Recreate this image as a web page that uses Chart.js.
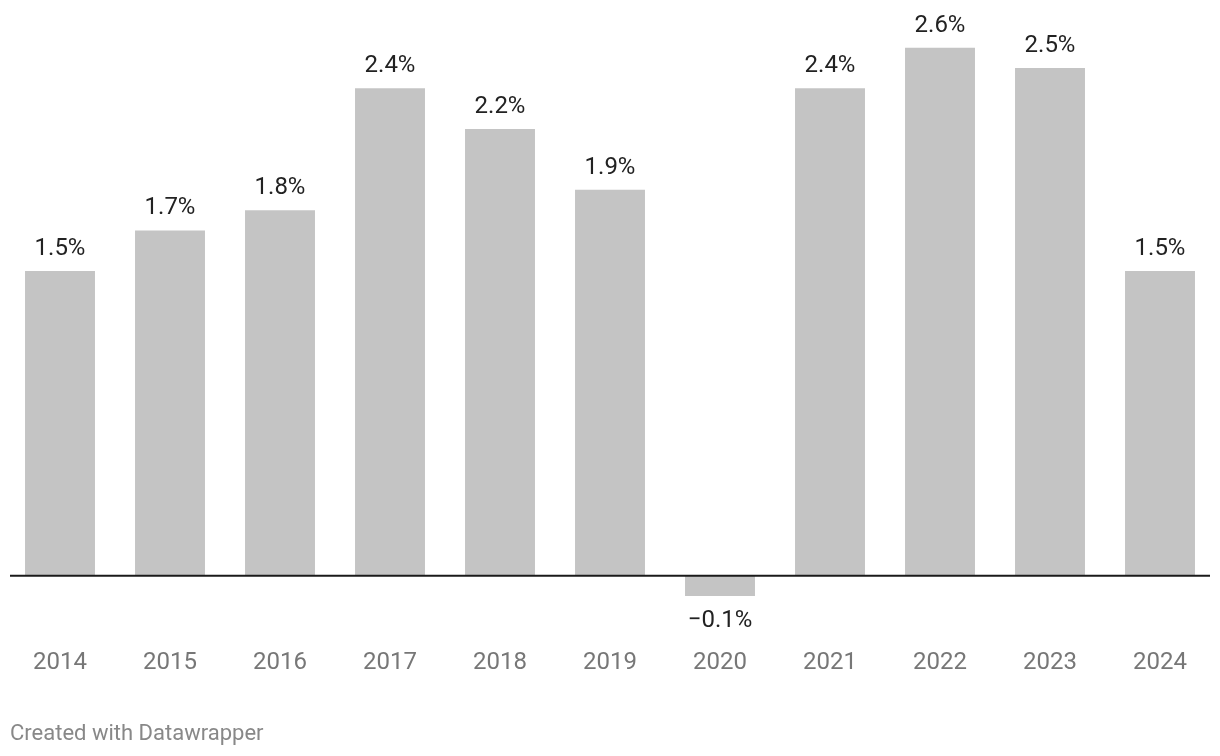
<!DOCTYPE html>
<html>
<head>
<meta charset="utf-8">
<script src="https://cdn.jsdelivr.net/npm/chart.js@4"></script>
<style>
    html, body { margin: 0; padding: 0; background: #ffffff; }
    #wrap { position: relative; width: 1220px; height: 756px; }
    #footer {
        position: absolute; left: 10px; top: 720px;
        font: 22px Roboto, sans-serif; color: #888888;
    }
</style>
</head>
<body>
<div id="wrap">
    <canvas id="chart" width="1220" height="756"></canvas>
    <div id="footer">Created with Datawrapper</div>
</div>
<script>
// 연도와 성장률 데이터
const years = ['2014', '2015', '2016', '2017', '2018', '2019', '2020', '2021', '2022', '2023', '2024'];
const growth = [1.5, 1.7, 1.8, 2.4, 2.2, 1.9, -0.1, 2.4, 2.6, 2.5, 1.5];
const valueLabels = ['1.5%', '1.7%', '1.8%', '2.4%', '2.2%', '1.9%', '\u22120.1%', '2.4%', '2.6%', '2.5%', '1.5%'];

// 막대 위/아래 값 라벨과 기준선 그리기
const labelPlugin = {
    id: 'valueLabels',
    afterDatasetsDraw(chart) {
        const ctx = chart.ctx;
        const x = chart.scales.x;
        const y = chart.scales.y;
        const zero = y.getPixelForValue(0);

        ctx.save();
        ctx.strokeStyle = '#1a1a1a';
        ctx.lineWidth = 2;
        ctx.beginPath();
        ctx.moveTo(10, zero);
        ctx.lineTo(1210, zero);
        ctx.stroke();

        ctx.font = '24px Roboto, sans-serif';
        ctx.fillStyle = '#222222';
        ctx.textAlign = 'center';
        ctx.textBaseline = 'middle';
        growth.forEach((v, i) => {
            const px = x.getPixelForValue(i);
            const py = y.getPixelForValue(v);
            const ly = v >= 0 ? py - 22 : py + 25;
            ctx.fillText(valueLabels[i], px, ly);
        });
        ctx.restore();
    }
};

new Chart(document.getElementById('chart'), {
    type: 'bar',
    data: {
        labels: years,
        datasets: [{
            data: growth,
            backgroundColor: '#c4c4c4',
            borderWidth: 0,
            barPercentage: 0.636,
            categoryPercentage: 1
        }]
    },
    options: {
        responsive: false,
        animation: false,
        layout: { padding: { left: 5, right: 5, top: 7, bottom: 66.5 } },
        plugins: {
            legend: { display: false },
            tooltip: { enabled: false }
        },
        scales: {
            x: {
                grid: { display: false, drawTicks: false },
                border: { display: false },
                ticks: {
                    color: '#777777',
                    font: { family: 'Roboto', size: 24 },
                    padding: 12
                }
            },
            y: {
                display: false,
                min: -0.3,
                max: 2.8
            }
        }
    },
    plugins: [labelPlugin]
});
</script>
</body>
</html>
